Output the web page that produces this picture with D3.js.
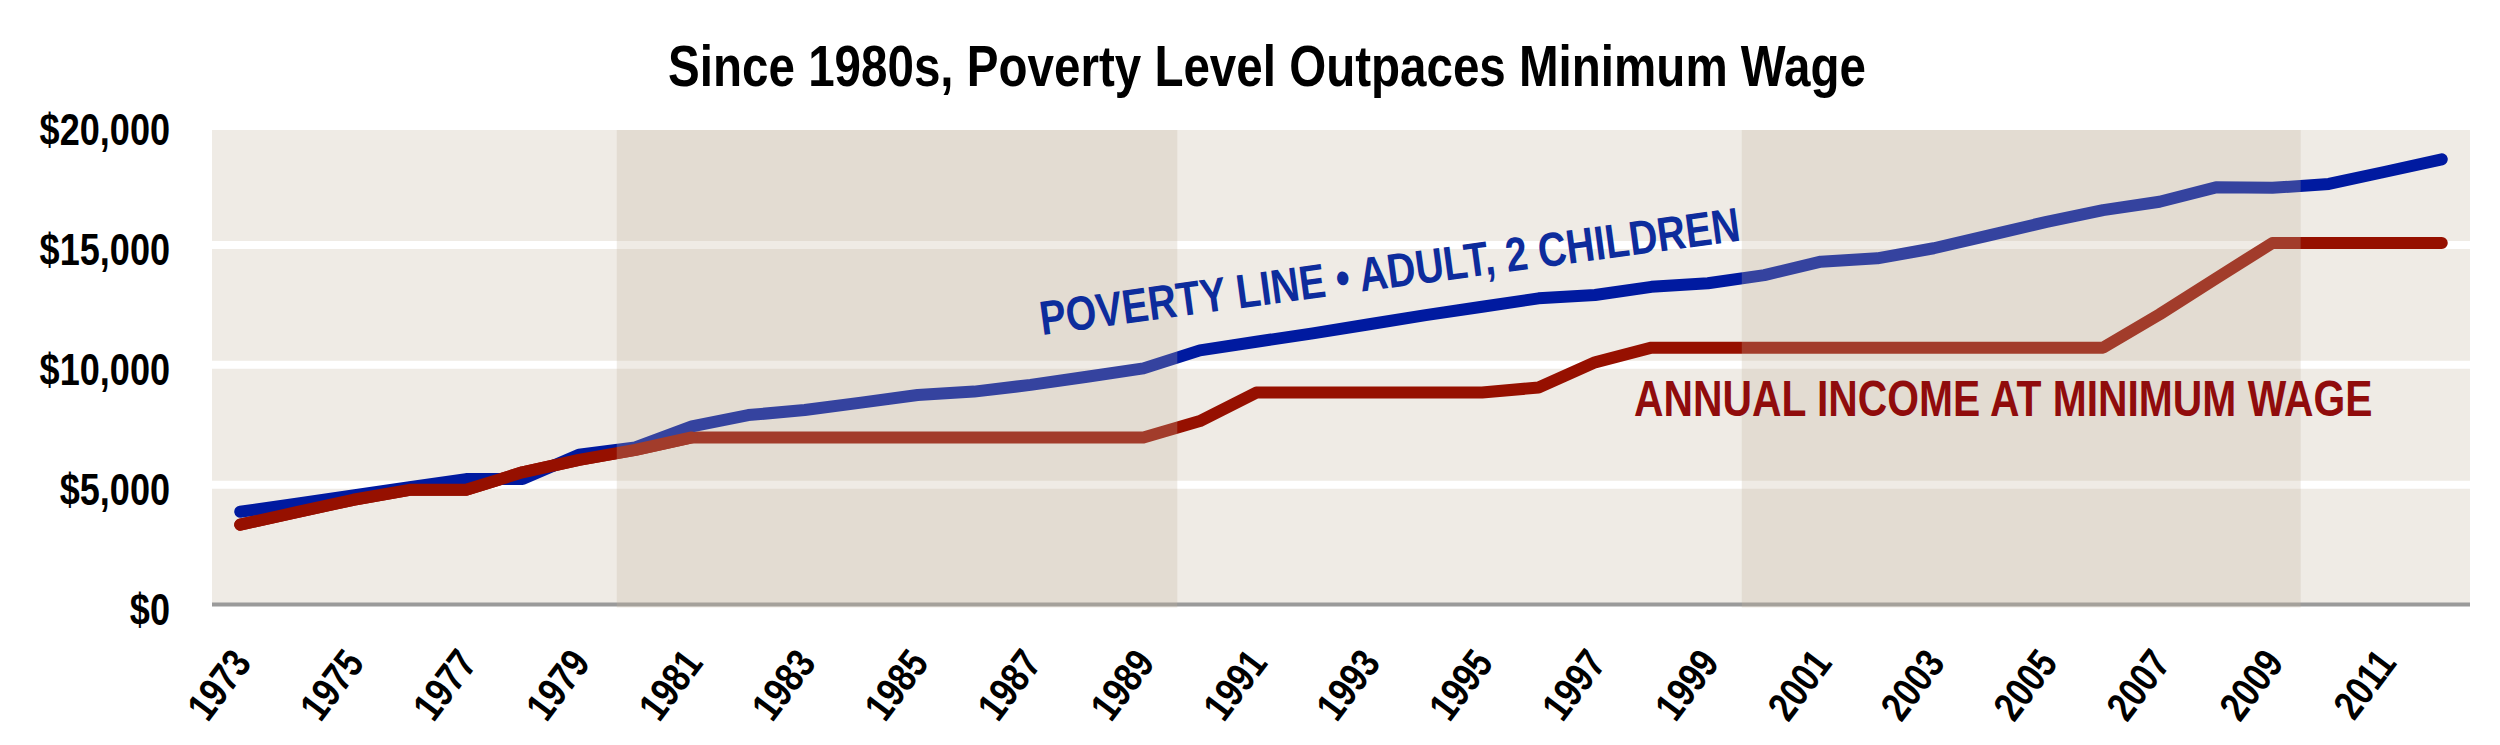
<!DOCTYPE html>
<html>
<head>
<meta charset="utf-8">
<script src="https://cdn.jsdelivr.net/npm/d3@7"></script>
<style>
  html, body { margin: 0; padding: 0; background: #ffffff; }
  svg { display: block; }
  text { font-family: "Liberation Sans", Arial, sans-serif; font-weight: bold; }
</style>
</head>
<body>
<svg id="chart" width="2500" height="745"></svg>
<script>
// ---------------- data ----------------
const years = d3.range(1973, 2013);
const povertyLine = [3870, 4210, 4550, 4890, 5230, 5230, 6250, 6550, 7430, 7900,
                     8110, 8420, 8740, 8880, 9160, 9500, 9850, 10600, 10960, 11310,
                     11690, 12070, 12420, 12770, 12910, 13250, 13400, 13740, 14300, 14440,
                     14860, 15410, 15960, 16450, 16800, 17400, 17380, 17540, 18050, 18570];
const minWageIncome = [3328, 3850, 4368, 4784, 4784, 5512, 6032, 6448, 6968, 6968,
                       6968, 6968, 6968, 6968, 6968, 6968, 6968, 7650, 8840, 8840,
                       8840, 8840, 8840, 9050, 10100, 10712, 10712, 10712, 10712, 10712,
                       10712, 10712, 10712, 10712, 12100, 13600, 15080, 15080, 15080, 15080];
const shadedPeriods = [[1979.67, 1989.6], [1999.6, 2009.5]];
const yTicks = [0, 5000, 10000, 15000, 20000];
const xTicks = d3.range(1973, 2012, 2);
const gridValues = [5000, 10000, 15000];
const titleText = "Since 1980s, Poverty Level Outpaces Minimum Wage";
const povertyLabel = "POVERTY LINE \u2022 ADULT, 2 CHILDREN";
const wageLabel = "ANNUAL INCOME AT MINIMUM WAGE";

// ---------------- layout ----------------
const plotLeft = 212, plotRight = 2470, plotTop = 130, plotBottom = 604.5;
const narrow = 0.82; // condensed face emulation
const svg = d3.select("#chart");

const x = d3.scaleLinear().domain([1972.5, 2012.5]).range([plotLeft, plotRight]);
const y = d3.scaleLinear().domain([0, 20000]).range([plotBottom, 125]);

// background
svg.append("rect")
  .attr("x", plotLeft).attr("y", plotTop)
  .attr("width", plotRight - plotLeft).attr("height", plotBottom - plotTop)
  .attr("fill", "#efebe5");

// gridlines
svg.append("g").selectAll("line").data(gridValues).join("line")
  .attr("x1", plotLeft).attr("x2", plotRight)
  .attr("y1", d => y(d)).attr("y2", d => y(d))
  .attr("stroke", "#ffffff").attr("stroke-width", 8);

// baseline axis
svg.append("line")
  .attr("x1", plotLeft).attr("x2", plotRight)
  .attr("y1", y(0)).attr("y2", y(0))
  .attr("stroke", "#9a9a9a").attr("stroke-width", 4);

// lines
const line = (vals) => d3.line()
  .x((d, i) => x(years[i]))
  .y(d => y(d))(vals);

svg.append("path")
  .attr("d", line(minWageIncome))
  .attr("fill", "none").attr("stroke", "#961000")
  .attr("stroke-width", 12).attr("stroke-linecap", "round").attr("stroke-linejoin", "round");

svg.append("path")
  .attr("d", line(povertyLine))
  .attr("fill", "none").attr("stroke", "#001aa0")
  .attr("stroke-width", 12).attr("stroke-linecap", "round").attr("stroke-linejoin", "round");

// wage line drawn over poverty where they overlap in early years
svg.append("path")
  .attr("d", line(minWageIncome.slice(0, 9)))
  .attr("fill", "none").attr("stroke", "#961000")
  .attr("stroke-width", 12).attr("stroke-linecap", "round").attr("stroke-linejoin", "round");

// shaded periods (translucent overlay)
svg.append("g").selectAll("rect").data(shadedPeriods).join("rect")
  .attr("x", d => x(d[0])).attr("width", d => x(d[1]) - x(d[0]))
  .attr("y", plotTop).attr("height", plotBottom - plotTop + 3)
  .attr("fill", "rgb(195,180,159)").attr("fill-opacity", 0.27);

// y axis
const yAxis = svg.append("g")
  .attr("transform", `translate(170,0)`)
  .call(d3.axisLeft(y).tickValues(yTicks).tickSize(0).tickPadding(0)
        .tickFormat(d => "$" + d3.format(",")(d)));
yAxis.select(".domain").remove();
yAxis.selectAll("text")
  .attr("x", 0).attr("dy", "0.45em")
  .attr("transform", `scale(${narrow},1)`)
  .attr("fill", "#000").style("font-size", "44px")
  .attr("text-anchor", "end");

// x axis
const xAxis = svg.append("g")
  .attr("transform", `translate(0,${plotBottom})`)
  .call(d3.axisBottom(x).tickValues(xTicks).tickSize(0).tickFormat(d3.format("d")));
xAxis.select(".domain").remove();
xAxis.selectAll("text")
  .attr("x", 0).attr("y", 0).attr("dy", 0)
  .attr("transform", `translate(12,59) rotate(-53) scale(${narrow},1)`)
  .attr("text-anchor", "end")
  .attr("fill", "#000").style("font-size", "41px");

// title
svg.append("text")
  .attr("transform", `translate(1267,86) scale(${narrow},1)`)
  .attr("text-anchor", "middle")
  .attr("fill", "#000").style("font-size", "58px")
  .text(titleText);

// series labels
svg.append("text")
  .attr("transform", `translate(1042,335) rotate(-7.7) scale(${narrow},1)`)
  .attr("fill", "#0d2c9c").style("font-size", "48px")
  .text(povertyLabel);

svg.append("text")
  .attr("transform", `translate(1634,416) scale(${narrow},1)`)
  .attr("fill", "#900c0c").style("font-size", "49.8px")
  .text(wageLabel);
</script>
</body>
</html>
